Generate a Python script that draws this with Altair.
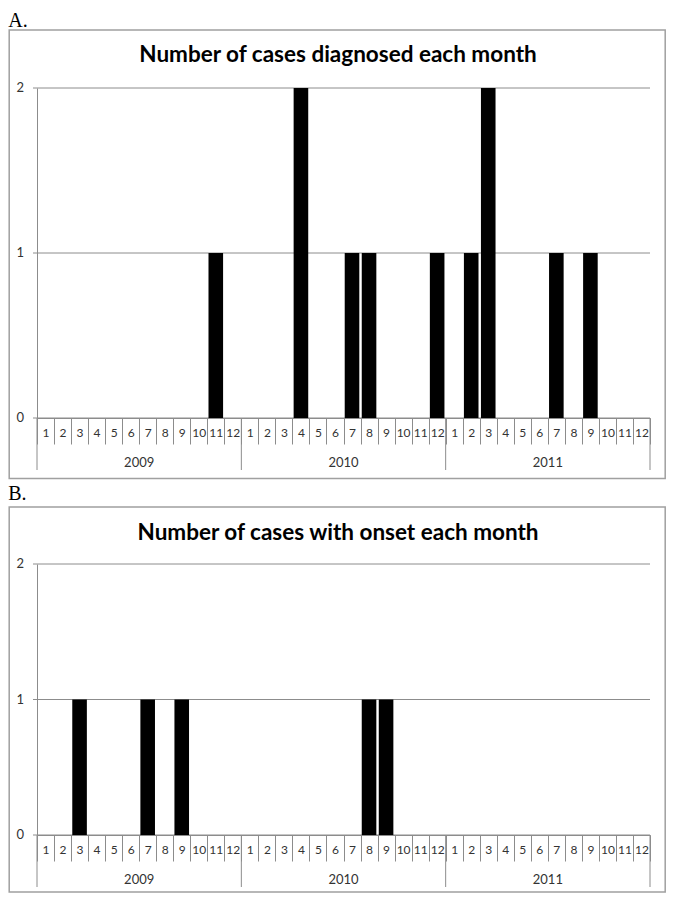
import altair as alt
import pandas as pd

# ---- data ----
years = [2009, 2010, 2011]
months = [1, 2, 3, 4, 5, 6, 7, 8, 9, 10, 11, 12]

diagnosed_2009 = [0, 0, 0, 0, 0, 0, 0, 0, 0, 0, 1, 0]
diagnosed_2010 = [0, 0, 0, 2, 0, 0, 1, 1, 0, 0, 0, 1]
diagnosed_2011 = [0, 1, 2, 0, 0, 0, 1, 0, 1, 0, 0, 0]

onset_2009 = [0, 0, 1, 0, 0, 0, 1, 0, 1, 0, 0, 0]
onset_2010 = [0, 0, 0, 0, 0, 0, 0, 1, 1, 0, 0, 0]
onset_2011 = [0, 0, 0, 0, 0, 0, 0, 0, 0, 0, 0, 0]

y_ticks = [0, 1, 2]

title_a = "Number of cases diagnosed each month"
title_b = "Number of cases with onset each month"

# ---- styles ----
GRID = "#8c8c8c"
BORDER = "#a0a0a0"
TXT = "#333333"
FONT = "Lato"
W = 613

keys = [f"{y}-{m:02d}" for y in years for m in months]
x_scale = alt.Scale(domain=keys, paddingInner=0, paddingOuter=0)
y_scale = alt.Scale(domain=[0, 2], nice=False)
x_axis = alt.Axis(
    title=None,
    labelExpr="isValid(datum.value) ? '' + toNumber(split(datum.value, '-')[1]) : ''",
    labelAngle=0,
    labelOverlap=False,
    labelBaseline="middle",
    labelPadding=-11.5,
    labelFont=FONT,
    labelFontSize=12,
    labelColor=TXT,
    tickBand="extent",
    tickSize=26,
    tickColor=GRID,
    domainColor=GRID,
    grid=False,
)
y_axis = alt.Axis(
    title=None,
    grid=False,
    ticks=False,
    labels=False,
    domainColor=GRID,
)


def panel(series, title, letter, h, letter_y, border_top, border_bottom, title_y):
    counts = [v for s in series for v in s]
    df = pd.DataFrame({"key": keys, "count": counts})
    grid_df = pd.DataFrame({"count": y_ticks, "label": [str(v) for v in y_ticks]})
    one = pd.DataFrame({"a": [0]})

    frame = alt.Chart(one).mark_rect(
        fill="white", fillOpacity=0, stroke=BORDER, strokeWidth=1.5
    ).encode(
        x=alt.value(-27.8), x2=alt.value(W + 15.2),
        y=alt.value(border_top), y2=alt.value(h + border_bottom),
    )
    grid = alt.Chart(grid_df).mark_rule(color=GRID, strokeWidth=1).encode(
        y=alt.Y("count:Q", scale=y_scale, axis=y_axis),
        x=alt.value(-4), x2=alt.value(W),
    )
    ylabels = alt.Chart(grid_df).mark_text(
        font=FONT, fontSize=13, color=TXT, align="right", baseline="middle"
    ).encode(
        y=alt.Y("count:Q", scale=y_scale, axis=y_axis),
        x=alt.value(-13),
        text="label:N",
    )
    bars = alt.Chart(df).mark_bar(
        color="black", width=alt.RelativeBandSize(0.857)
    ).encode(
        x=alt.X("key:N", scale=x_scale, axis=x_axis, sort=keys),
        y=alt.Y("count:Q", scale=y_scale, axis=y_axis),
    )
    start_df = pd.DataFrame({"key": [f"{y}-01" for y in years]})
    end_df = pd.DataFrame({"key": [keys[-1]]})
    rules_start = alt.Chart(start_df).mark_rule(color=GRID, strokeWidth=1).encode(
        x=alt.X("key:N", scale=x_scale, axis=x_axis, bandPosition=0, sort=keys),
        y=alt.value(h), y2=alt.value(h + 52),
    )
    rules_end = alt.Chart(end_df).mark_rule(color=GRID, strokeWidth=1).encode(
        x=alt.X("key:N", scale=x_scale, axis=x_axis, bandPosition=1, sort=keys),
        y=alt.value(h), y2=alt.value(h + 52),
    )
    year_df = pd.DataFrame({"key": [f"{y}-06" for y in years], "year": [str(y) for y in years]})
    year_text = alt.Chart(year_df).mark_text(
        font=FONT, fontSize=13, color=TXT, baseline="middle", align="center"
    ).encode(
        x=alt.X("key:N", scale=x_scale, axis=x_axis, bandPosition=1, sort=keys),
        y=alt.value(h + 45),
        text="year:N",
    )
    title_text = alt.Chart(one).mark_text(
        text=title, font=FONT, fontSize=22.5, fontWeight="bold", color="black",
        align="center", baseline="middle",
    ).encode(x=alt.value(301), y=alt.value(title_y))
    letter_text = alt.Chart(one).mark_text(
        text=letter, font="Liberation Serif", fontSize=20, color="black",
        align="left", baseline="alphabetic",
    ).encode(x=alt.value(-28.8), y=alt.value(letter_y))

    return alt.layer(
        frame, grid, ylabels, bars, rules_start, rules_end, year_text,
        title_text, letter_text
    ).properties(width=W, height=h)


chart_a = panel([diagnosed_2009, diagnosed_2010, diagnosed_2011], title_a, "A.",
                330, -61, -58, 60.5, -32.6)
chart_b = panel([onset_2009, onset_2010, onset_2011], title_b, "B.",
                271, -64, -57, 57, -31.5)

chart = alt.vconcat(chart_a, chart_b, spacing=4).properties(
    padding={"top": 3, "left": 0, "right": 0, "bottom": 0}
).configure_view(strokeWidth=0)

chart.save("out.html", embed_options={"renderer": "svg", "actions": False})
